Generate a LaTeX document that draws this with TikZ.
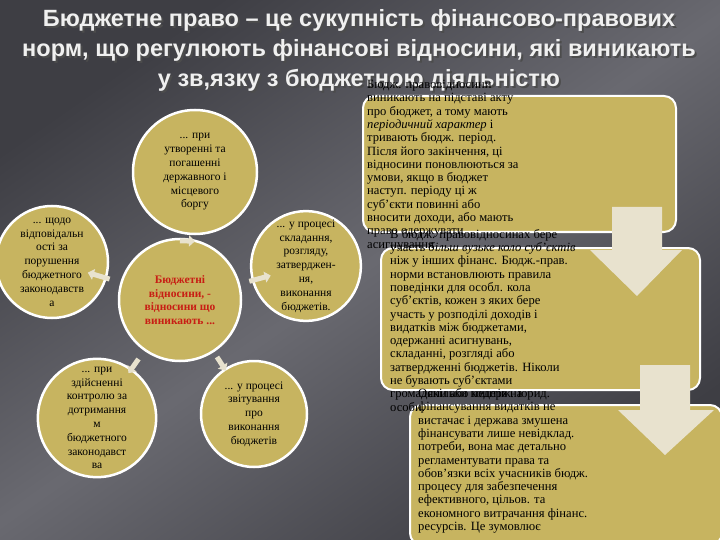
\documentclass[tikz,border=0pt]{standalone}
\usepackage{fontspec}
\setmainfont{Liberation Serif}
\newfontfamily\titlefont{Liberation Sans}
\usetikzlibrary{calc,arrows.meta,shadings}
\definecolor{gold}{RGB}{199,180,96}
\definecolor{beige}{RGB}{232,226,206}
\definecolor{bgdark}{RGB}{62,62,68}
\definecolor{bglight}{RGB}{150,150,158}
\definecolor{redtxt}{RGB}{200,30,20}
\tikzset{
 circ/.style={circle,fill=gold,draw=white,line width=2.5pt,minimum size=#1,inner sep=0pt,align=center,font=\fontsize{11.5}{13.8}\selectfont},
 rbox/.style={rounded corners=12pt,fill=gold,draw=white,line width=2pt},
 btxt/.style={anchor=north west,align=left,inner sep=0pt,font=\fontsize{12.6}{13.3}\selectfont},
 ttl/.style={font=\titlefont\bfseries\fontsize{23.5}{30}\selectfont,text=white!88!gray,align=center},
 sarr/.style={-{Triangle[width=11pt,length=6pt]},line width=5pt,beige},
 bigarr/.style={fill=beige,draw=none}
}
\begin{document}
\begin{tikzpicture}[x=1pt,y=-1pt]
\useasboundingbox (0,0) rectangle (720,540);
\shade[left color=bgdark,right color=bgdark,middle color=bglight,shading angle=35] (0,0) rectangle (720,540);
\fill[bgdark,opacity=0.5] (0,0) rectangle (720,540);
% title
\node[ttl,text=black!70] at (361,52) {Бюджетне право – це сукупність фінансово-правових\\норм, що регулюють фінансові відносини, які виникають\\у зв,язку з бюджетною діяльністю};
\node[ttl] (title) at (359,50) {Бюджетне право – це сукупність фінансово-правових\\норм, що регулюють фінансові відносини, які виникають\\у зв,язку з бюджетною діяльністю};
% boxes
\draw[rbox] (363,96) rectangle (676,232);
\draw[rbox] (381,248) rectangle (700,390);
\draw[rbox] (410,405) rectangle (722,545);
% big arrows
\fill[bigarr] (612,207) -- (662,207) -- (662,250) -- (682,250) -- (637,296) -- (590,250) -- (612,250) -- cycle;
\fill[bigarr] (640,365) -- (690,365) -- (690,410) -- (714,410) -- (665,455) -- (618,410) -- (640,410) -- cycle;
% box texts
\node[btxt] (t1) at (367,80) {Бюдж. правовідносини\\виникають на підставі акту\\про бюджет, а тому мають\\\textit{періодичний характер} і\\тривають бюдж. період.\\Після його закінчення, ці\\відносини поновлюються за\\умови, якщо в бюджет\\наступ. періоду ці ж\\суб'єкти повинні або\\вносити доходи, або мають\\право одержувати\\асигнування};
\node[btxt] (t2) at (390,229) {В бюдж. правовідносинах бере\\участь \textit{більш вузьке коло суб'єктів}\\ніж у інших фінанс. Бюдж.-прав.\\норми  встановлюють правила\\поведінки для особл. кола\\суб'єктів, кожен з яких бере\\участь у розподілі доходів і\\видатків між бюджетами,\\одержанні асигнувань,\\складанні, розгляді або\\затвердженні бюджетів. Ніколи\\не бувають суб'єктами\\громадяни або недерж. юрид.\\особи.};
\node[btxt] (t3) at (418,389) {Оскільки коштів на\\фінансування видатків не\\вистачає і держава змушена\\фінансувати лише невідклад.\\потреби, вона має детально\\регламентувати права та\\обов'язки всіх учасників бюдж.\\процесу для забезпечення\\ефективного, цільов. та\\економного витрачання фінанс.\\ресурсів. Це зумовлює};
% circles
\node[circ=124pt] (top) at (195,172) {... при\\утворенні та\\погашенні\\державного і\\місцевого\\боргу};
\node[circ=112pt] (left) at (52,262) {... щодо\\відповідальн\\ості за\\порушення\\бюджетного\\законодавств\\а};
\node[circ=108pt] (right) at (306,266) {... у процесі\\складання,\\розгляду,\\затверджен-\\ня,\\виконання\\бюджетів.};
\node[circ=122pt,text=redtxt] (ctr) at (180,300) {\textbf{Бюджетні}\\\textbf{відносини, -}\\\textbf{відносини що}\\\textbf{виникають ...}};
\node[circ=106pt] (bl) at (97,418) {... при\\здійсненні\\контролю за\\дотримання\\м\\бюджетного\\законодавст\\ва};
\node[circ=106pt] (br) at (254,414) {... у процесі\\звітування\\про\\виконання\\бюджетів};
% small arrows
\draw[sarr] ($(ctr.north)+(0,3)$) -- ($(top.south)+(0,6)$);
\draw[sarr] ($(ctr)!0.55!(left)$) -- ($(ctr)!0.72!(left)$);
\draw[sarr] ($(ctr)!0.55!(right)$) -- ($(ctr)!0.72!(right)$);
\draw[sarr] ($(ctr)!0.5!(bl)$) -- ($(ctr)!0.62!(bl)$);
\draw[sarr] ($(ctr)!0.5!(br)$) -- ($(ctr)!0.62!(br)$);
\end{tikzpicture}
\end{document}
